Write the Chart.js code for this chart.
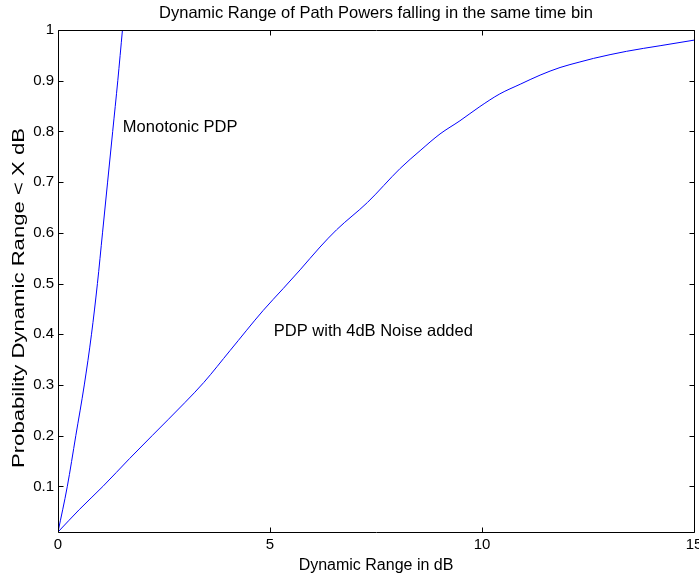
<!DOCTYPE html>
<html>
<head>
<meta charset="utf-8">
<script src="https://cdn.jsdelivr.net/npm/chart.js@4/dist/chart.umd.min.js"></script>
<style>
  html, body { margin: 0; padding: 0; background: #fff; }
  canvas { display: block; }
</style>
</head>
<body>
<canvas id="c" width="699" height="575"></canvas>
<script>
// ---- data ----
const titleText = 'Dynamic Range of Path Powers falling in the same time bin';
const xTitle = 'Dynamic Range in dB';
const yTitle = 'Probability Dynamic Range < X dB';

const xTicks = [0, 5, 10, 15];
const xTickLabels = ['0', '5', '10', '15'];
const yTicks = [0.1, 0.2, 0.3, 0.4, 0.5, 0.6, 0.7, 0.8, 0.9, 1];
const yTickLabels = ['0.1', '0.2', '0.3', '0.4', '0.5', '0.6', '0.7', '0.8', '0.9', '1'];

const monoX = [0, 0.22, 0.42, 0.62, 0.79, 0.93, 1.05, 1.17, 1.29, 1.41, 1.52];
const monoY = [0.01, 0.1, 0.2, 0.3, 0.4, 0.5, 0.6, 0.7, 0.8, 0.9, 1.0];

const noiseX = [0, 0.5, 1.06, 1.69, 2.22, 2.99, 3.44, 4.06, 4.84, 5.31, 5.71, 6.18, 6.57, 7.3, 8.07, 8.54, 9.01, 9.48, 9.95, 10.42, 10.9, 11.37, 11.84, 12.31, 12.63, 13.41, 14.2, 15];
const noiseY = [0.01, 0.054, 0.1, 0.155, 0.2, 0.265, 0.305, 0.368, 0.447, 0.49, 0.527, 0.572, 0.606, 0.66, 0.727, 0.762, 0.795, 0.821, 0.849, 0.874, 0.893, 0.911, 0.926, 0.937, 0.944, 0.958, 0.969, 0.98];

const labels = [
  { text: 'Monotonic PDP', x: 1.53, y: 0.807 },
  { text: 'PDP with 4dB Noise added', x: 5.09, y: 0.405 }
];

const FONT = '"Liberation Sans", Arial, Helvetica, sans-serif';

function pts(xs, ys) { return xs.map((x, i) => ({ x: x, y: ys[i] })); }

const framePlugin = {
  id: 'matlabFrame',
  afterDatasetsDraw(chart) {
    const { ctx, chartArea: a, scales } = chart;
    const xs = scales.x, ys = scales.y;
    ctx.save();
    ctx.strokeStyle = '#000';
    ctx.lineWidth = 1;
    ctx.beginPath();
    const L = Math.round(a.left) + 0.5, R = Math.round(a.right) + 0.5;
    const T = Math.round(a.top) + 0.5, B = Math.round(a.bottom) + 0.5;
    ctx.rect(L, T, R - L, B - T);
    const tl = 5;
    xTicks.forEach(v => {
      const px = Math.round(xs.getPixelForValue(v)) + 0.5;
      ctx.moveTo(px, B); ctx.lineTo(px, B - tl);
      ctx.moveTo(px, T); ctx.lineTo(px, T + tl);
    });
    yTicks.forEach(v => {
      const py = Math.round(ys.getPixelForValue(v)) + 0.5;
      ctx.moveTo(L, py); ctx.lineTo(L + tl, py);
      ctx.moveTo(R, py); ctx.lineTo(R - tl, py);
    });
    ctx.stroke();
    // annotations
    ctx.fillStyle = '#000';
    ctx.font = '16.5px ' + FONT;
    ctx.textAlign = 'left';
    ctx.textBaseline = 'middle';
    labels.forEach(l => {
      ctx.fillText(l.text, xs.getPixelForValue(l.x), ys.getPixelForValue(l.y));
    });
    // y axis title (drawn elongated along its direction, as in the reference)
    ctx.translate(20, 298);
    ctx.rotate(-Math.PI / 2);
    ctx.font = '16px ' + FONT;
    const w = ctx.measureText(yTitle).width;
    ctx.scale(340 / w, 1);
    ctx.textAlign = 'center';
    ctx.fillText(yTitle, 0, 0);
    ctx.restore();
  }
};

new Chart(document.getElementById('c'), {
  type: 'line',
  data: {
    datasets: [
      { label: 'Monotonic PDP', data: pts(monoX, monoY), borderColor: '#0000ff', borderWidth: 1, pointRadius: 0, cubicInterpolationMode: 'monotone', fill: false },
      { label: 'PDP with 4dB Noise added', data: pts(noiseX, noiseY), borderColor: '#0000ff', borderWidth: 1, pointRadius: 0, cubicInterpolationMode: 'monotone', fill: false }
    ]
  },
  options: {
    responsive: false,
    animation: false,
    devicePixelRatio: 1,
    layout: { padding: { left: 0, right: 5, top: 0, bottom: 0 } },
    plugins: {
      legend: { display: false },
      tooltip: { enabled: false },
      title: {
        display: true,
        text: titleText,
        fullSize: false,
        color: '#000',
        font: { family: FONT, size: 16.5, weight: 'normal' },
        padding: { top: 4, bottom: 6.2 }
      }
    },
    scales: {
      x: {
        type: 'linear',
        min: 0, max: 15,
        grid: { display: false, drawTicks: false },
        border: { display: false },
        afterBuildTicks: (s) => { s.ticks = xTicks.map(v => ({ value: v })); },
        afterFit: (s) => { s.height = 43; s.paddingLeft = 0; s.paddingRight = 0; },
        ticks: {
          color: '#000',
          font: { family: FONT, size: 15 },
          padding: 4,
          maxRotation: 0,
          autoSkip: false,
          callback: (v, i) => xTickLabels[i]
        },
        title: {
          display: true,
          text: xTitle,
          color: '#000',
          font: { family: FONT, size: 16 },
          padding: { top: 0, bottom: 0 }
        }
      },
      y: {
        type: 'linear',
        min: 0.01, max: 1,
        grid: { display: false, drawTicks: false },
        border: { display: false },
        afterBuildTicks: (s) => { s.ticks = yTicks.map(v => ({ value: v })); },
        afterFit: (s) => { s.width = 58; s.paddingTop = 0; s.paddingBottom = 0; },
        ticks: {
          color: '#000',
          font: { family: FONT, size: 15 },
          padding: 4,
          autoSkip: false,
          callback: (v, i) => yTickLabels[i]
        },
        title: { display: false }
      }
    }
  },
  plugins: [framePlugin]
});
</script>
</body>
</html>
